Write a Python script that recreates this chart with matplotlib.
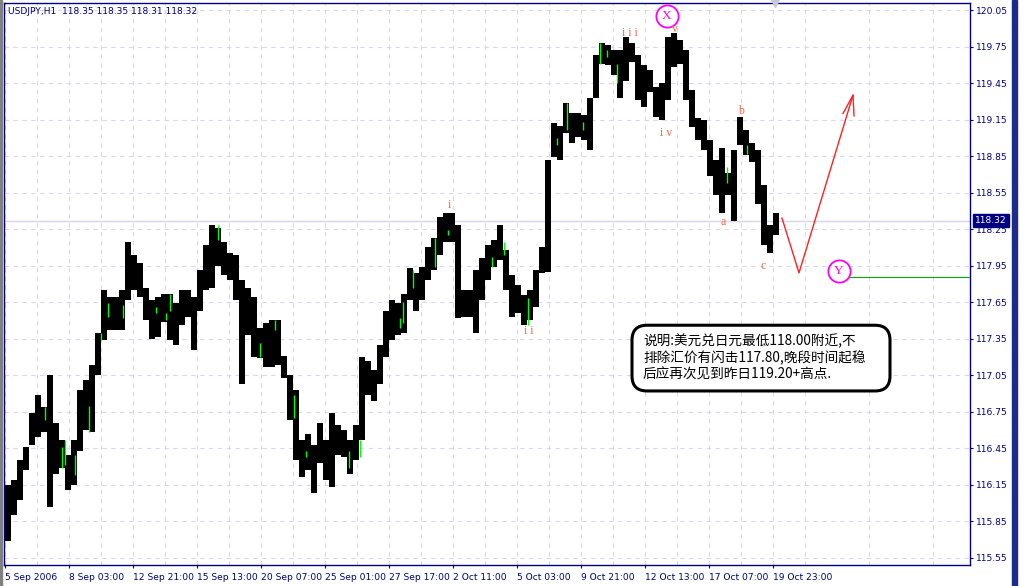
# USDJPY H1 chart with Elliott wave annotations, MT4 style

import numpy as np
import matplotlib.pyplot as plt
from matplotlib.patches import Rectangle, FancyBboxPatch
from matplotlib.transforms import blended_transform_factory

# Price data: hourly bars grouped by 6 (high / low of each group)
bars_per_group = 6
group_high = [116.15, 116.19, 116.35, 116.46, 116.74, 116.89, 116.79, 117.05, 116.66, 116.52,
              116.39, 116.52, 116.93, 117.01, 117.13, 117.40, 117.75, 117.69, 117.69, 117.75,
              118.14, 118.04, 117.97, 117.77, 117.67, 117.69, 117.72, 117.72, 117.64, 117.75,
              117.75, 117.69, 117.91, 118.12, 118.28, 118.26, 118.14, 118.05, 118.04, 117.83,
              117.77, 117.69, 117.44, 117.48, 117.50, 117.50, 117.21, 117.05, 116.93, 116.52,
              116.57, 116.48, 116.66, 116.52, 116.74, 116.64, 116.60, 116.52, 116.64, 117.20,
              117.17, 117.09, 117.30, 117.58, 117.67, 117.64, 117.72, 117.93, 117.89, 117.94,
              118.10, 118.18, 118.35, 118.38, 118.38, 118.28, 117.75, 117.75, 117.91, 118.01,
              118.12, 118.16, 118.28, 118.08, 117.87, 117.79, 117.71, 117.75, 117.91, 118.10,
              118.82, 119.12, 119.10, 119.29, 119.20, 119.20, 119.19, 119.33, 119.68, 119.78,
              119.76, 119.72, 119.72, 119.83, 119.78, 119.68, 119.60, 119.56, 119.42, 119.45,
              119.83, 119.86, 119.80, 119.72, 119.39, 119.16, 119.15, 118.98, 118.82, 118.92,
              118.71, 118.90, 119.17, 119.06, 118.96, 118.90, 118.61, 118.28, 118.38]
group_low = [115.69, 115.90, 116.02, 116.27, 116.48, 116.54, 116.58, 115.97, 116.24, 116.29,
             116.11, 116.15, 116.43, 116.60, 116.58, 117.05, 117.34, 117.42, 117.42, 117.42,
             117.67, 117.75, 117.69, 117.50, 117.35, 117.36, 117.49, 117.34, 117.30, 117.46,
             117.53, 117.26, 117.58, 117.75, 117.77, 117.95, 117.87, 117.83, 117.67, 116.98,
             117.38, 117.20, 117.19, 117.12, 117.12, 117.13, 117.03, 116.68, 116.35, 116.21,
             116.27, 116.08, 116.33, 116.19, 116.13, 116.39, 116.38, 116.24, 116.35, 116.52,
             116.89, 116.84, 116.98, 117.20, 117.34, 117.38, 117.40, 117.67, 117.58, 117.67,
             117.83, 117.91, 118.04, 118.14, 118.14, 117.52, 117.53, 117.53, 117.40, 117.67,
             117.83, 117.94, 118.00, 117.75, 117.53, 117.56, 117.46, 117.50, 117.61, 117.89,
             117.90, 118.84, 118.82, 119.04, 118.96, 119.01, 118.98, 118.90, 119.33, 119.61,
             119.60, 119.52, 119.33, 119.47, 119.62, 119.31, 119.25, 119.38, 119.17, 119.15,
             119.31, 119.58, 119.61, 119.31, 119.09, 118.98, 118.90, 118.69, 118.53, 118.38,
             118.53, 118.32, 118.94, 118.86, 118.80, 118.46, 118.12, 118.05, 118.20]

# single green (up) bars: bar index, high, low
green_bar = [39, 56, 59, 69, 83, 95, 102, 117, 150, 160, 164, 212, 254, 269, 288, 300, 343,
             354, 394, 397, 407, 429, 442, 486, 498, 522, 551, 561, 577, 594, 601, 611, 721, 741]
green_high = [116.79, 116.46, 116.52, 116.39, 116.80, 117.40, 117.64, 117.63, 117.61, 117.56,
              117.72, 118.28, 117.31, 117.50, 116.89, 116.43, 116.43, 116.52, 117.52, 117.65,
              117.91, 118.18, 118.24, 118.02, 118.14, 117.68, 119.00, 119.29, 119.13, 119.78,
              119.72, 119.61, 118.76, 118.94]
green_low = [116.68, 116.29, 116.31, 116.23, 116.58, 117.34, 117.53, 117.52, 117.56, 117.50,
             117.58, 118.16, 117.20, 117.42, 116.70, 116.38, 116.29, 116.38, 117.44, 117.48,
             117.77, 117.94, 118.20, 117.94, 118.04, 117.46, 118.94, 119.06, 119.06, 119.61,
             119.66, 119.45, 118.63, 118.87]

last_price = 118.32
header = "USDJPY,H1  118.35 118.35 118.31 118.32"

y_ticks = [115.55, 115.85, 116.15, 116.45, 116.75, 117.05, 117.35, 117.65, 117.95,
           118.25, 118.55, 118.85, 119.15, 119.45, 119.75, 120.05]
x_tick_bars = [0, 64, 128, 192, 256, 320, 384, 448, 512, 576, 640, 704, 768]
x_tick_labels = ['5 Sep 2006', '8 Sep 03:00', '12 Sep 21:00', '15 Sep 13:00', '20 Sep 07:00',
                 '25 Sep 01:00', '27 Sep 17:00', '2 Oct 11:00', '5 Oct 03:00', '9 Oct 21:00',
                 '12 Oct 13:00', '17 Oct 07:00', '19 Oct 23:00']

# wave labels (bar index, price)
wave_text = ['i', 'i i', 'i i i', 'i v', 'v', 'a', 'b', 'c']
wave_bar = [444, 524, 625, 661, 670, 718, 736, 758]
wave_price = [118.45, 117.41, 119.86, 119.04, 119.89, 118.31, 119.22, 117.95]

circle_text = ['X', 'Y']
circle_bar = [662, 834]
circle_price = [120.00, 117.905]

# forecast path drawn in red
path_bar = [777, 794, 848]
path_price = [118.34, 117.89, 119.35]
head_bar = [838, 848, 849]
head_price = [119.20, 119.35, 119.18]

target_start = 845
target_price = 117.86

note = ("说明:美元兑日元最低118.00附近,不\n"
        "排除汇价有闪击117.80,晚段时间起稳\n"
        "后应再次见到昨日119.20+高点.")
note_box = (627, 116.92, 258, 0.54)   # bar, price, width in bars, height in price

navy = '#000080'
grid_col = '#d8d8f0'

W, H = 1024, 586
fig = plt.figure(figsize=(W / 100, H / 100), dpi=100)
ax = fig.add_axes([4 / W, (H - 565) / H, (970 - 4) / W, (565 - 2.7) / H])

# price bars
x = np.arange(len(group_high)) * bars_per_group
hi = np.array(group_high)
lo = np.array(group_low)
ax.bar(x, hi - lo, bottom=lo, width=bars_per_group, align='edge',
       color='black', linewidth=0, zorder=3)
ax.vlines(np.array(green_bar) + 0.5, green_low, green_high, color='#00ff00', lw=1, zorder=4)

# last price line
ax.axhline(last_price, color='#d4d4ec', lw=1, zorder=1)

ax.set_xlim(-1, 965)
ax.set_ylim(115.49, 120.11)

ax.yaxis.tick_right()
ax.set_yticks(y_ticks)
ax.set_yticklabels(['%.2f' % v for v in y_ticks])
ax.set_xticks(x_tick_bars)
ax.set_xticklabels(x_tick_labels, ha='left')
ax.set_xticks(np.arange(32, 965, 64), minor=True)
ax.tick_params(axis='both', which='major', colors=navy, labelsize=6.6, length=2.5, width=0.8)
ax.tick_params(axis='x', which='minor', length=0)
ax.tick_params(axis='x', pad=3)
ax.tick_params(axis='y', pad=2)
ax.grid(which='both', color=grid_col, linestyle=(0, (4, 4)), lw=0.8, zorder=0)
for s in ax.spines.values():
    s.set_color(navy)
    s.set_linewidth(1)

ax.text(0.004, 0.985, header, transform=ax.transAxes, color=navy, fontsize=6.6,
        ha='left', va='center')

# current price box on the price axis
trans = blended_transform_factory(ax.transAxes, ax.transData)
ax.text(1.005, last_price, '%.2f' % last_price, transform=trans, color='white',
        fontsize=6.6, ha='left', va='center', zorder=10,
        bbox=dict(boxstyle='square,pad=0.25', fc=navy, ec=navy))

# circles first, wave labels on top of them
for t, b, p in zip(circle_text, circle_bar, circle_price):
    ax.plot(b, p, 'o', ms=16, mfc='white', mec='#ff00ff', mew=1.3, zorder=5, clip_on=False)
    ax.text(b, p, t, color='#ff00ff', fontsize=9.5, family='Liberation Serif',
            ha='center', va='center', zorder=6)

for t, b, p in zip(wave_text, wave_bar, wave_price):
    ax.text(b, p, t, color='#ff6347', fontsize=8.5, family='Liberation Serif',
            ha='center', va='center', zorder=7)

ax.plot(path_bar, path_price, color='#ff2020', lw=1, zorder=5)
ax.plot(head_bar, head_price, color='#ff2020', lw=1, zorder=5)
ax.plot([target_start, 965], [target_price, target_price], color='#00b000', lw=0.8, zorder=5)

# shift marker at the top
ax.plot(770, 1.0, marker='v', ms=6, color='#c8c8d8',
        transform=blended_transform_factory(ax.transData, ax.transAxes), clip_on=False, zorder=7)

# comment box (round corners corrected for the price/bar aspect)
bx, by, bw, bh = note_box
px_per_price = (565 - 2.7) / (120.11 - 115.49)
ax.add_patch(FancyBboxPatch((bx, by), bw, bh,
                            boxstyle='round,pad=0,rounding_size=15',
                            mutation_aspect=1 / px_per_price,
                            fc='white', ec='black', lw=2.2, zorder=8))
ax.text(bx + 11, by + bh / 2, note, color='black', fontsize=9.8, linespacing=1.22,
        family=['Noto Sans CJK SC', 'DejaVu Sans'], ha='left', va='center', zorder=9)

# window frame
fig.patches.append(Rectangle((0, 0), 2 / W, 1, transform=fig.transFigure, color='#808080'))
fig.patches.append(Rectangle((1012 / W, 0), 5 / W, 1, transform=fig.transFigure, color='#1c2c88'))

fig.savefig('out.png', dpi=100)
